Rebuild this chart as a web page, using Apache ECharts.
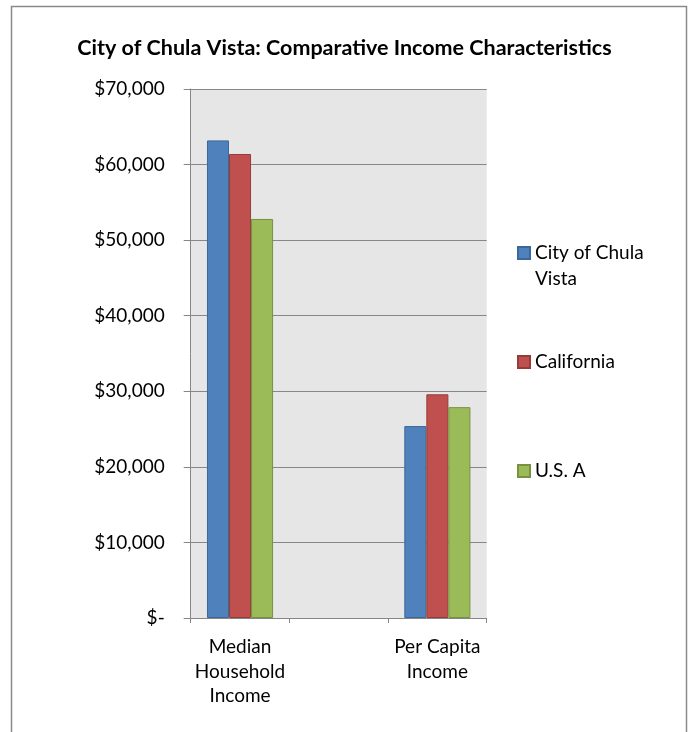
<!DOCTYPE html>
<html>
<head>
<meta charset="utf-8">
<script src="https://cdn.jsdelivr.net/npm/echarts@6/dist/echarts.min.js"></script>
<style>
  html, body { margin: 0; padding: 0; background: #ffffff; }
  #chart { width: 689px; height: 732px; }
</style>
</head>
<body>
<div id="chart"></div>
<script>
// Income comparison: Chula Vista vs. California vs. United States
const categories = ['Median\nHousehold\nIncome', '', 'Per Capita\nIncome'];
const chulaVista = [63200, null, 25400];
const california = [61400, null, 29600];
const usa = [52800, null, 27900];
const seriesNames = ['City of Chula\nVista', 'California', 'U.S. A'];
const yTicks = [0, 10000, 20000, 30000, 40000, 50000, 60000, 70000];

const FONT = 'Lato, "Open Sans", sans-serif';
const colors = ['#4F81BD', '#C0504D', '#9BBB59'];
const borders = ['#3A6899', '#943C3A', '#76923F'];

function money(v) {
  if (v === 0) return '$-';
  return '$' + v.toLocaleString('en-US');
}

const chart = echarts.init(document.getElementById('chart'), null, { renderer: 'canvas' });

// One legend block per series so each entry can sit at its own height;
// a blank leading line keeps the swatch level with the first text line.
function legendFor(i, top, formatter) {
  const lg = {
    data: [seriesNames[i]],
    orient: 'vertical',
    left: 517,
    top: top,
    padding: 0,
    icon: 'rect',
    itemWidth: 12,
    itemHeight: 12,
    selectedMode: false,
    textStyle: { fontFamily: FONT, fontSize: 19, color: '#000', lineHeight: 26 }
  };
  if (formatter) lg.formatter = formatter;
  return lg;
}

const seriesData = [chulaVista, california, usa];

chart.setOption({
  animation: false,
  backgroundColor: '#ffffff',
  title: {
    text: 'City of Chula Vista: Comparative Income Characteristics',
    left: 'center',
    top: 32,
    textStyle: { fontFamily: FONT, fontSize: 21.5, fontWeight: 'bold', color: '#000' }
  },
  graphic: [{
    type: 'rect',
    shape: { x: 11.5, y: 6.5, width: 675, height: 760 },
    style: { fill: 'none', stroke: '#8a8a8a', lineWidth: 1.5 },
    silent: true
  }],
  legend: [
    legendFor(0, 214, function (name) { return ' \n' + name; }),
    legendFor(1, 349),
    legendFor(2, 458)
  ],
  grid: {
    left: 190.7,
    right: 202.3,
    top: 89,
    bottom: 114,
    show: true,
    backgroundColor: '#E6E6E6',
    borderWidth: 0
  },
  xAxis: {
    type: 'category',
    data: categories,
    axisLine: { lineStyle: { color: '#868686', width: 1 } },
    axisTick: { show: true, length: 5, lineStyle: { color: '#868686' } },
    axisLabel: { fontFamily: FONT, fontSize: 19, color: '#000', lineHeight: 24.5, margin: 17, interval: 0 }
  },
  yAxis: {
    type: 'value',
    min: 0,
    max: 70000,
    interval: 10000,
    axisLine: { show: true, lineStyle: { color: '#868686', width: 1 } },
    axisTick: { show: true, length: 7, lineStyle: { color: '#868686' } },
    splitLine: { lineStyle: { color: '#878787', width: 1 } },
    axisLabel: {
      fontFamily: FONT, fontSize: 19, color: '#000', margin: 26,
      formatter: function (v) { return yTicks.indexOf(v) >= 0 ? money(v) : ''; }
    }
  },
  series: seriesData.map(function (d, i) {
    return {
      name: seriesNames[i],
      type: 'bar',
      data: d,
      barGap: '0%',
      barCategoryGap: '33%',
      itemStyle: { color: colors[i], borderColor: borders[i], borderWidth: 1 }
    };
  })
});
</script>
</body>
</html>
